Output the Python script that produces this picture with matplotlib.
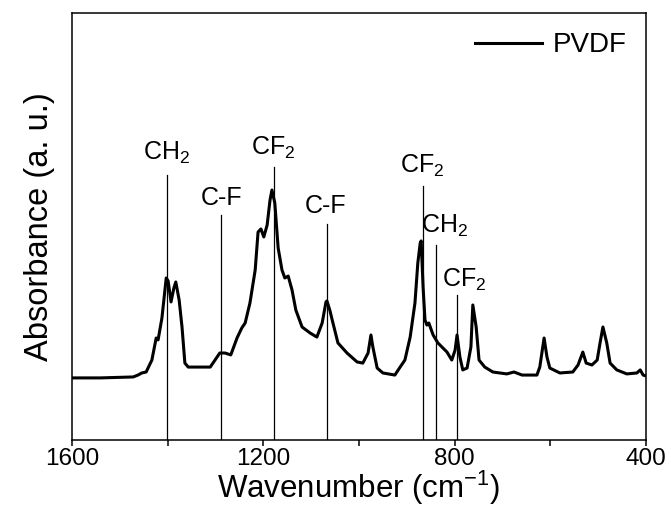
import matplotlib
matplotlib.use("Agg")
import matplotlib.pyplot as plt
from matplotlib.ticker import MultipleLocator

plt.rcParams["font.family"] = ["Liberation Sans", "DejaVu Sans"]
plt.rcParams["mathtext.fontset"] = "custom"
plt.rcParams["mathtext.rm"] = "Liberation Sans"
plt.rcParams["mathtext.default"] = "regular"

# PVDF FTIR spectrum (wavenumber in cm-1, absorbance in a.u., baseline ~0)
wavenumber = [
    1600, 1541, 1472, 1462, 1454, 1445, 1433, 1424, 1420, 1412, 1403, 1399,
    1393, 1387, 1383, 1376, 1370, 1364, 1357, 1332, 1311, 1301, 1291, 1280,
    1268, 1255, 1245, 1238, 1228, 1217, 1211, 1205, 1199, 1192, 1186, 1182,
    1176, 1169, 1161, 1155, 1148, 1140, 1132, 1119, 1102, 1088, 1077, 1069,
    1067, 1061, 1056, 1044, 1025, 1004, 992, 981, 975, 971, 962, 950, 925,
    914, 904, 893, 883, 877, 872, 870, 866, 862, 858, 854, 845, 835, 816,
    806, 799, 795, 789, 783, 774, 766, 762, 755, 749, 737, 720, 691, 676,
    659, 628, 622, 613, 607, 601, 580, 553, 542, 532, 525, 513, 502, 496,
    490, 482, 475, 461, 440, 419, 412, 406, 400,
]
absorbance = [
    0.011, 0.011, 0.016, 0.026, 0.037, 0.042, 0.105, 0.221, 0.211, 0.326,
    0.537, 0.521, 0.411, 0.484, 0.516, 0.421, 0.279, 0.089, 0.068, 0.068,
    0.068, 0.105, 0.142, 0.142, 0.132, 0.221, 0.274, 0.300, 0.405, 0.579,
    0.779, 0.795, 0.753, 0.816, 0.947, 1.000, 0.932, 0.695, 0.579, 0.537,
    0.547, 0.474, 0.368, 0.279, 0.247, 0.226, 0.300, 0.411, 0.416, 0.368,
    0.316, 0.195, 0.142, 0.095, 0.089, 0.142, 0.237, 0.174, 0.063, 0.037,
    0.026, 0.068, 0.105, 0.226, 0.405, 0.616, 0.721, 0.732, 0.489, 0.316,
    0.289, 0.300, 0.237, 0.195, 0.147, 0.105, 0.158, 0.237, 0.121, 0.053,
    0.063, 0.174, 0.395, 0.279, 0.105, 0.068, 0.042, 0.032, 0.042, 0.026,
    0.026, 0.068, 0.221, 0.121, 0.063, 0.037, 0.042, 0.079, 0.147, 0.089,
    0.079, 0.105, 0.195, 0.279, 0.195, 0.089, 0.053, 0.032, 0.037, 0.053,
    0.026, 0.021,
]

# band assignments: marker line position, line top, label anchor
band_pos = [1402, 1288, 1178, 1066, 866, 838, 796]
band_top = [1.079, 0.868, 1.121, 0.821, 1.021, 0.711, 0.447]
band_label = ["CH$_2$", "C-F", "CF$_2$", "C-F", "CF$_2$", "CH$_2$", "CF$_2$"]
label_x = [1403, 1288, 1180, 1069, 868, 820, 780]
label_y = [1.158, 0.921, 1.184, 0.879, 1.089, 0.774, 0.489]

y_min, y_max = -0.316, 1.932

fig = plt.figure(figsize=(6.71, 5.07), dpi=100)
ax = fig.add_axes([0.1073, 0.1321, 0.8554, 0.8423])

ax.plot(wavenumber, absorbance, color="black", linewidth=2.2, label="PVDF")
for pos, top, text, tx, ty in zip(band_pos, band_top, band_label, label_x, label_y):
    ax.plot([pos, pos], [y_min, top], color="black", linewidth=0.9)
    ax.text(tx, ty, text, ha="center", va="baseline", fontsize=18)

ax.set_xlim(1600, 400)
ax.set_ylim(y_min, y_max)
ax.xaxis.set_major_locator(MultipleLocator(400))
ax.xaxis.set_minor_locator(MultipleLocator(200))
ax.tick_params(axis="x", which="both", direction="out", length=4, width=1.1,
               labelsize=17.5, pad=2)
ax.set_yticks([])
for spine in ax.spines.values():
    spine.set_linewidth(1.1)

ax.set_xlabel("Wavenumber (cm$^{-1}$)", fontsize=22.5, labelpad=-1)
ax.set_ylabel("Absorbance (a. u.)", fontsize=23.5, labelpad=12)

ax.legend(loc="upper right", frameon=False, fontsize=20, handlelength=2.4,
          handletextpad=0.4, borderaxespad=0.3)

fig.savefig("out.png", dpi=100)
